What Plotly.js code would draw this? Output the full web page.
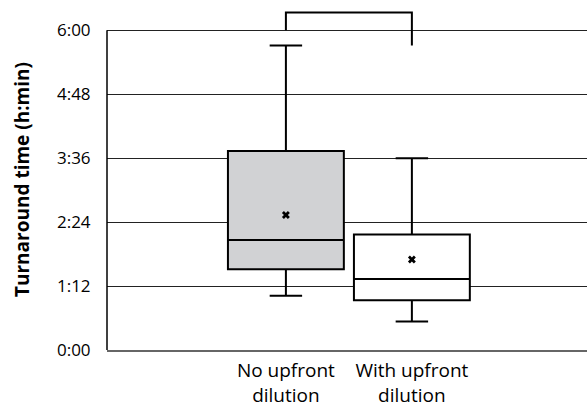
<!DOCTYPE html>
<html>
<head>
<meta charset="utf-8">
<script src="https://cdn.plot.ly/plotly-3.0.1.min.js"></script>
<style>html,body{margin:0;padding:0;background:#fff;}#chart{width:587px;height:409px;}</style>
</head>
<body>
<div id="chart"></div>
<script>
// Data (minutes)
const categories = ['No upfront<br>dilution', 'With upfront<br>dilution'];
const lowerWhisker = [61, 32];
const q1Values = [91, 56];
const medianValues = [124, 80];
const q3Values = [224, 130];
const upperWhisker = [343, 216];
const meanValues = [152, 102];
const boxFills = ['#d1d2d4', '#ffffff'];
// significance bracket: left leg bottom, top, top, right leg bottom
const bracketY = [360, 380, 380, 343];
const tickMinutes = [0, 72, 144, 216, 288, 360];
const tickLabels = ['0:00', '1:12', '2:24', '3:36', '4:48', '6:00'];

const FONT = 'Open Sans, Noto Sans, sans-serif';
const xs = categories.map((c, i) => i);

const traces = categories.map((c, i) => ({
  type: 'box',
  x: [xs[i]],
  q1: [q1Values[i]],
  median: [medianValues[i]],
  q3: [q3Values[i]],
  lowerfence: [lowerWhisker[i]],
  upperfence: [upperWhisker[i]],
  width: 0.92,
  whiskerwidth: 0.28,
  fillcolor: boxFills[i],
  line: {color: '#000', width: 2},
  boxpoints: false,
  hoverinfo: 'skip',
  showlegend: false
}));

traces.push({
  type: 'scatter', mode: 'markers',
  x: xs, y: meanValues,
  marker: {symbol: 'x', size: 7, color: '#000', line: {width: 0}},
  showlegend: false, hoverinfo: 'skip'
});

traces.push({
  type: 'scatter', mode: 'lines',
  x: [xs[0], xs[0], xs[1], xs[1]], y: bracketY,
  line: {color: '#000', width: 2},
  showlegend: false, hoverinfo: 'skip', cliponaxis: false
});

const layout = {
  width: 587, height: 409,
  margin: {l: 107, r: 0, t: 9, b: 59},
  paper_bgcolor: '#fff', plot_bgcolor: '#fff',
  font: {family: FONT, color: '#000', size: 17},
  xaxis: {
    range: [-1.42, 2.39],
    tickvals: xs, ticktext: categories,
    showgrid: false, zeroline: false,
    showline: true, linecolor: '#666', linewidth: 1.5,
    ticks: 'outside', ticklen: 3, tickcolor: 'rgba(0,0,0,0)',
    tickfont: {size: 19, family: FONT, color: '#000'},
    fixedrange: true
  },
  yaxis: {
    range: [0, 384],
    tickvals: tickMinutes, ticktext: tickLabels,
    showgrid: true, gridcolor: '#222', gridwidth: 1,
    zeroline: false, showline: false,
    ticks: 'outside', ticklen: 12, tickcolor: 'rgba(0,0,0,0)',
    tickfont: {size: 17, family: FONT, color: '#000'},
    title: {text: '<b>Turnaround time (h:min)</b>', font: {size: 19, family: FONT, color: '#000'}, standoff: 22},
    fixedrange: true
  },
  shapes: [{
    type: 'line', xref: 'paper', yref: 'y',
    x0: 0, x1: 0, y0: tickMinutes[0], y1: tickMinutes[tickMinutes.length - 1],
    line: {color: '#000', width: 1.5}
  }]
};

Plotly.newPlot('chart', traces, layout, {displayModeBar: false, staticPlot: true});
</script>
</body>
</html>
